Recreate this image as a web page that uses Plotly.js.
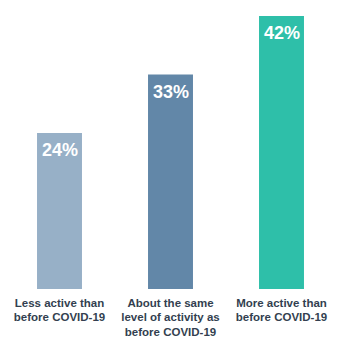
<!DOCTYPE html>
<html>
<head>
<meta charset="utf-8">
<script src="https://cdn.plot.ly/plotly-3.0.1.min.js"></script>
<style>html,body{margin:0;padding:0;background:#fff;}#chart{width:343px;height:348px;}</style>
</head>
<body>
<div id="chart"></div>
<script>
const categories = ["Less active than<br>before COVID-19", "About the same<br>level of activity as<br>before COVID-19", "More active than<br>before COVID-19"];
const values = [24, 33, 42];
const valueLabels = ["24%", "33%", "42%"];
const barColors = ["#97b0c7", "#6287a8", "#2ebfa9"];

const trace = {
  type: "bar",
  x: categories,
  y: values,
  marker: {color: barColors},
  hoverinfo: "none",
  textposition: "none"
};

const annotations = categories.map((c, i) => ({
  x: c, y: values[i], xref: "x", yref: "y",
  text: "<b>" + valueLabels[i] + "</b>",
  showarrow: false, yanchor: "top", yshift: -5,
  font: {family: "Arial, Liberation Sans, sans-serif", size: 18, color: "#ffffff"}
}));

const layout = {
  width: 343, height: 348,
  margin: {l: 4, r: 6, t: 16, b: 59},
  paper_bgcolor: "#ffffff", plot_bgcolor: "#ffffff",
  bargap: 0.595,
  showlegend: false,
  xaxis: {
    type: "category",
    showgrid: false, zeroline: false, showline: false,
    ticks: "", ticklabelstandoff: 5,
    tickfont: {family: "Arial, Liberation Sans, sans-serif", size: 11.5, color: "#333f50", weight: "bold"}
  },
  yaxis: {
    range: [0, 42], visible: false, showgrid: false, zeroline: false
  },
  annotations: annotations
};

Plotly.newPlot("chart", [trace], layout, {displayModeBar: false, staticPlot: true});
</script>
</body>
</html>
